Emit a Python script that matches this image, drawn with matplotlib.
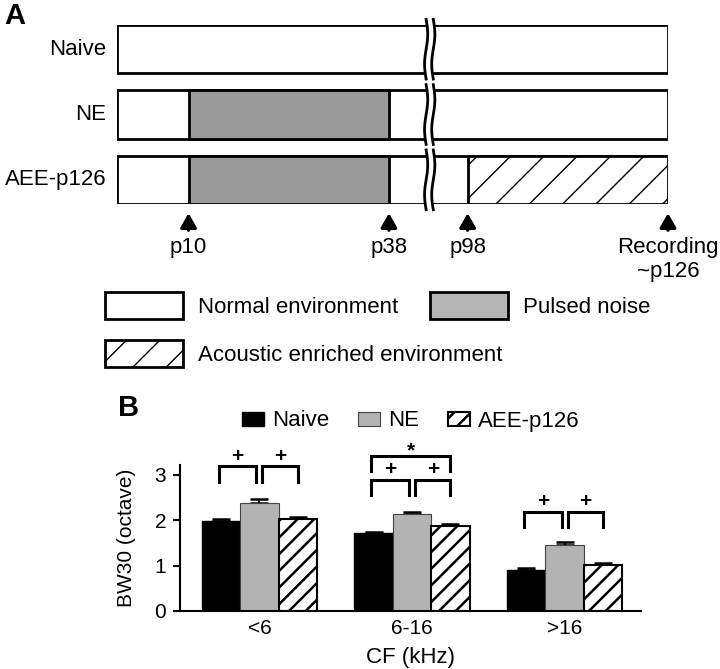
import numpy as np
import matplotlib
matplotlib.use("Agg")
import matplotlib.pyplot as plt
from matplotlib.patches import Rectangle, Polygon, Patch

plt.rcParams["font.family"] = ["Liberation Sans", "DejaVu Sans"]

# ---- panel A: rearing schedule, postnatal days ----
rows_a = ["Naive", "NE", "AEE-p126"]
schedules = {
    "Naive": [],
    "NE": [(10, 38, "pulsed")],
    "AEE-p126": [(10, 38, "pulsed"), (98, 126, "enriched")],
}
first_day, last_day = 0, 126
marker_days = [10, 38, 98, 126]
marker_labels = ["p10", "p38", "p98", "Recording\n~p126"]
legend_a_labels = ["Normal environment", "Acoustic enriched environment", "Pulsed noise"]

# ---- panel B: BW30 per CF range ----
cf_bins = ["<6", "6-16", ">16"]
bw_naive = [1.98, 1.72, 0.90]
bw_naive_se = [0.06, 0.03, 0.05]
bw_ne = [2.38, 2.13, 1.45]
bw_ne_se = [0.08, 0.05, 0.07]
bw_aee = [2.02, 1.88, 1.02]
bw_aee_se = [0.05, 0.04, 0.04]
group_names = ["Naive", "NE", "AEE-p126"]
# (cf bin, bar i, bar j, bracket top, symbol)
sig = [(0, 0, 1, 3.19, "+"), (0, 1, 2, 3.19, "+"),
       (1, 0, 1, 2.89, "+"), (1, 1, 2, 2.89, "+"), (1, 0, 2, 3.42, "*"),
       (2, 0, 1, 2.19, "+"), (2, 1, 2, 2.19, "+")]

gray_a = "#9a9a9a"
gray_b = "#b3b3b3"

# axis break: days 43..93 are squeezed out of the time line
gap_lo, gap_hi, shift = 43.2, 93.2, 49.0


def sx(day):
    return day if day <= gap_lo else day - shift


fig = plt.figure(figsize=(7.2, 6.69), dpi=100)

# ================= panel A =================
ax_a = fig.add_axes([117 / 720, 1 - 204 / 669, 551 / 720, 179 / 669])
ax_a.set_xlim(sx(first_day), sx(last_day))
ax_a.set_ylim(2.37, -0.37)
ax_a.axis("off")
h = 0.735
plt.rcParams["hatch.linewidth"] = 1.0
for r, name in enumerate(rows_a):
    ax_a.add_patch(Rectangle((sx(first_day), r - h / 2), sx(last_day) - sx(first_day), h,
                             facecolor="white", edgecolor="black", lw=2, zorder=1))
    for start, end, kind in schedules[name]:
        if kind == "pulsed":
            ax_a.add_patch(Rectangle((sx(start), r - h / 2), sx(end) - sx(start), h,
                                     facecolor=gray_a, edgecolor="black", lw=2, zorder=2))
        else:
            ax_a.add_patch(Rectangle((sx(start), r - h / 2), sx(end) - sx(start), h,
                                     facecolor="white", edgecolor="black", hatch="/",
                                     lw=2, zorder=2))
    ax_a.text(-1.5, r, name, ha="right", va="center", fontsize=16)

    # break marks
    yy = np.linspace(r - h / 2 - 0.09, r + h / 2 + 0.09, 40)
    wig = 0.22 * np.sin(2 * np.pi * (yy - yy[0]) / (yy[-1] - yy[0]))
    xl = gap_lo + wig
    xr = sx(gap_hi) + wig
    ax_a.add_patch(Polygon(np.column_stack([np.r_[xl, xr[::-1]], np.r_[yy, yy[::-1]]]),
                           closed=True, facecolor="white", edgecolor="none", zorder=3,
                           clip_on=False))
    ax_a.plot(xl, yy, color="black", lw=2, zorder=4, clip_on=False)
    ax_a.plot(xr, yy, color="black", lw=2, zorder=4, clip_on=False)

for d, lab in zip(marker_days, marker_labels):
    ax_a.annotate("", xy=(sx(d), 2.51), xytext=(sx(d), 2.77),
                  arrowprops=dict(arrowstyle="-|>,head_width=0.24,head_length=0.42",
                                  lw=2.5, color="black", shrinkA=0, shrinkB=0,
                                  mutation_scale=20),
                  annotation_clip=False)
    ax_a.text(sx(d), 2.88, lab, ha="center", va="top", fontsize=16,
              linespacing=1.15, clip_on=False)

leg_kw = dict(loc="upper left", frameon=False, fontsize=16, handlelength=3.5,
              handleheight=1.5, handletextpad=0.7, labelspacing=0.95,
              borderpad=0, borderaxespad=0)
fig.legend([Patch(facecolor="white", edgecolor="black", lw=2),
            Patch(facecolor="white", edgecolor="black", lw=2, hatch="/")],
           legend_a_labels[:2], bbox_to_anchor=(105 / 720, 1 - 292 / 669), **leg_kw)
fig.legend([Patch(facecolor="#b5b5b5", edgecolor="black", lw=2)],
           legend_a_labels[2:], bbox_to_anchor=(430 / 720, 1 - 292 / 669), **leg_kw)

fig.text(4 / 720, 1 - 2 / 669, "A", fontsize=21, fontweight="bold", va="top", ha="left")
fig.text(118 / 720, 1 - 394 / 669, "B", fontsize=21, fontweight="bold", va="top", ha="left")

# ================= panel B =================
plt.rcParams["hatch.linewidth"] = 1.8
ax_b = fig.add_axes([180 / 720, 58 / 669, 461 / 720, 146 / 669])
x = np.arange(len(cf_bins))
w = 0.252
series = [(bw_naive, bw_naive_se, dict(color="black", edgecolor="black")),
          (bw_ne, bw_ne_se, dict(color=gray_b, edgecolor="#444444", linewidth=0.8)),
          (bw_aee, bw_aee_se, dict(color="white", edgecolor="black", hatch="//",
                                   linewidth=1.5))]
handles_b = []
for k, (vals, se, style) in enumerate(series):
    pos = x + (k - 1) * w
    bars = ax_b.bar(pos, vals, width=w, zorder=2, label=group_names[k], **style)
    handles_b.append(bars)
    ax_b.errorbar(pos, vals, yerr=[np.zeros(len(se)), se], fmt="none", ecolor="black",
                  elinewidth=1.5, capsize=6.5, capthick=1.8, zorder=1)

for b, i, j, top, sym in sig:
    xl = b + (i - 1) * w + (0.02 if i == 1 else -0.015)
    xr = b + (j - 1) * w + (-0.02 if j == 1 else 0.0)
    ax_b.plot([xl, xl, xr, xr], [top - 0.34, top, top, top - 0.34], color="black",
              lw=2.2, solid_joinstyle="miter", clip_on=False)
    ty = top + 0.22 if sym == "+" else top + 0.12
    ax_b.text((xl + xr) / 2, ty, sym, ha="center", va="center", fontsize=15,
              fontweight="bold", clip_on=False)

ax_b.set_xlim(-0.52, 2.50)
ax_b.set_ylim(0, 3.22)
ax_b.set_yticks([0, 1, 2, 3])
ax_b.set_xticks(x)
ax_b.set_xticklabels(cf_bins)
ax_b.spines["top"].set_visible(False)
ax_b.spines["right"].set_visible(False)
ax_b.spines["left"].set_linewidth(1.5)
ax_b.spines["bottom"].set_linewidth(1.5)
ax_b.tick_params(axis="y", direction="out", length=5, width=1.5, labelsize=15, pad=5)
ax_b.tick_params(axis="x", length=0, labelsize=15, pad=6)
ax_b.set_xlabel("CF (kHz)", fontsize=16, labelpad=6)
ax_b.set_ylabel("BW30 (octave)", fontsize=15)
ax_b.yaxis.set_label_coords(-0.095, 0.5)

ax_b.legend(handles_b, group_names, ncol=3, loc="center left",
            bbox_to_anchor=(242 / 720, 1 - 421 / 669), bbox_transform=fig.transFigure,
            frameon=False, fontsize=16, handlelength=1.0, handleheight=0.6,
            handletextpad=0.35, columnspacing=1.3, borderpad=0, borderaxespad=0)

fig.savefig("out.png", dpi=100)
